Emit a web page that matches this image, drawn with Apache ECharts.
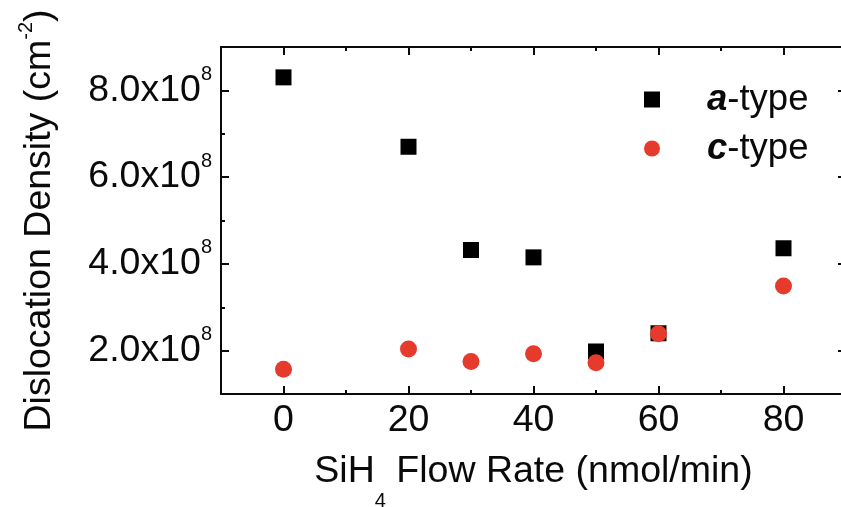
<!DOCTYPE html>
<html>
<head>
<meta charset="utf-8">
<script src="https://cdn.jsdelivr.net/npm/echarts@6/dist/echarts.min.js"></script>
<style>
html,body{margin:0;padding:0;background:#fff;}
#chart{width:841px;height:507px;}
</style>
</head>
<body>
<div id="chart"></div>
<script>
// Data (SiH4 flow rate in nmol/min, dislocation density in cm^-2)
const flowRates = [0, 20, 30, 40, 50, 60, 80];
const aTypeDensity = [8.30e8, 6.70e8, 4.32e8, 4.15e8, 1.98e8, 2.40e8, 4.36e8];
const cTypeDensity = [1.57e8, 2.04e8, 1.75e8, 1.93e8, 1.72e8, 2.39e8, 3.49e8];
const xTickValues = [0, 20, 40, 60, 80];
const yTickValues = [2e8, 4e8, 6e8, 8e8];
const seriesNames = ['a-type', 'c-type'];

const FONT = "'Liberation Sans', Arial, sans-serif";
const INK = '#0a0a0a';
const RED = '#e53a2c';

function pairs(xs, ys) { return xs.map((x, i) => [x, ys[i]]); }

const chart = echarts.init(document.getElementById('chart'), null, {renderer: 'canvas'});

const axisLine = {show: true, onZero: false, lineStyle: {color: INK, width: 2}};
const noLine = {show: false, onZero: false};
const majorTick = {show: true, inside: true, length: 8, lineStyle: {color: INK, width: 2}};
const minorTick = {show: true, inside: true, length: 4, lineStyle: {color: INK, width: 2}};

const xBase = {type: 'value', min: -10, max: 90, splitLine: {show: false}};
const yBase = {type: 'value', min: 1e8, max: 9e8, splitLine: {show: false}};

const option = {
  backgroundColor: '#fff',
  animation: false,
  grid: {left: 221, top: 47, right: -5, bottom: 113, containLabel: false, outerBoundsMode: 'none'},
  legend: {
    orient: 'vertical',
    left: 639,
    top: 76,
    itemWidth: 16,
    itemHeight: 16,
    itemGap: 12,
    data: seriesNames,
    formatter: function (name) {
      const p = name.split('-');
      return '{b|' + p[0] + '}{n|-' + p[1] + '}';
    },
    textStyle: {
      padding: [0, 0, 0, 42],
      rich: {
        b: {fontFamily: FONT, fontSize: 36.5, fontWeight: 'bold', fontStyle: 'italic', color: INK},
        n: {fontFamily: FONT, fontSize: 36.5, color: INK}
      }
    }
  },
  xAxis: [
    Object.assign({}, xBase, {
      position: 'bottom', splitNumber: 5,
      axisLine: axisLine, axisTick: majorTick,
      axisLabel: {
        show: true, margin: 8, color: INK, fontFamily: FONT, fontSize: 37.5,
        formatter: v => xTickValues.indexOf(v) >= 0 ? String(v) : ''
      },
      name: '{m|SiH}{s|4}{m| Flow Rate (nmol/min)}',
      nameLocation: 'middle', nameGap: 39,
      nameTextStyle: {
        rich: {
          m: {fontFamily: FONT, fontSize: 37.5, color: INK},
          s: {fontFamily: FONT, fontSize: 20, color: INK, padding: [58, 0, 0, 0]}
        }
      }
    }),
    Object.assign({}, xBase, {
      position: 'bottom', interval: 10,
      axisLine: noLine, axisTick: minorTick, axisLabel: {show: false}
    }),
    Object.assign({}, xBase, {
      position: 'top', splitNumber: 5,
      axisLine: axisLine, axisTick: majorTick, axisLabel: {show: false}
    }),
    Object.assign({}, xBase, {
      position: 'top', interval: 10,
      axisLine: noLine, axisTick: minorTick, axisLabel: {show: false}
    })
  ],
  yAxis: [
    Object.assign({}, yBase, {
      position: 'left', splitNumber: 4,
      axisLine: axisLine, axisTick: majorTick,
      axisLabel: {
        show: true, margin: 9, color: INK,
        formatter: function (v) {
          if (yTickValues.indexOf(v) < 0) return '';
          return '{m|' + (v / 1e8).toFixed(1) + 'x10}{s|8}';
        },
        rich: {
          m: {fontFamily: FONT, fontSize: 37.5, color: INK},
          s: {fontFamily: FONT, fontSize: 20, color: INK, padding: [0, 0, 32, 0]}
        }
      },
      name: '{m|Dislocation Density (cm}{s|-2}{m|)}',
      nameLocation: 'middle', nameGap: 157, nameRotate: 90,
      nameTextStyle: {
        rich: {
          m: {fontFamily: FONT, fontSize: 37.5, color: INK},
          s: {fontFamily: FONT, fontSize: 20, color: INK, padding: [0, 0, 28, 0]}
        }
      }
    }),
    Object.assign({}, yBase, {
      position: 'left', interval: 1e8,
      axisLine: noLine, axisTick: minorTick, axisLabel: {show: false}
    }),
    Object.assign({}, yBase, {
      position: 'right', splitNumber: 4,
      axisLine: axisLine, axisTick: majorTick, axisLabel: {show: false}
    }),
    Object.assign({}, yBase, {
      position: 'right', interval: 1e8,
      axisLine: noLine, axisTick: minorTick, axisLabel: {show: false}
    })
  ],
  series: [
    {
      name: seriesNames[0], type: 'scatter', xAxisIndex: 0, yAxisIndex: 0,
      symbol: 'rect', symbolSize: 16,
      itemStyle: {color: '#000', opacity: 1},
      data: pairs(flowRates, aTypeDensity), z: 2
    },
    {
      name: seriesNames[1], type: 'scatter', xAxisIndex: 0, yAxisIndex: 0,
      symbol: 'circle', symbolSize: 17,
      itemStyle: {color: RED, opacity: 1},
      data: pairs(flowRates, cTypeDensity), z: 3
    }
  ]
};
chart.setOption(option);
</script>
</body>
</html>
